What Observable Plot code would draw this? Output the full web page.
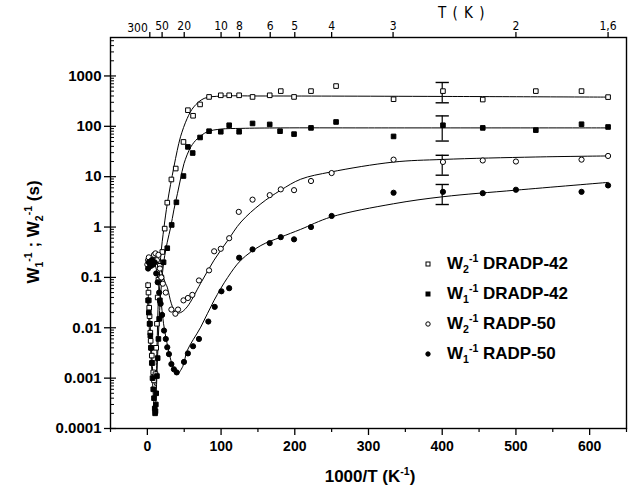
<!DOCTYPE html>
<html><head><meta charset="utf-8">
<script src="https://cdn.jsdelivr.net/npm/d3@7"></script>
<script src="https://cdn.jsdelivr.net/npm/@observablehq/plot@0.6"></script>
<style>
body{margin:0;background:#fff;}
#wrap{position:relative;width:636px;height:491px;font-family:"Liberation Sans",Arial,sans-serif;color:#000;}
.ov{position:absolute;font-weight:bold;white-space:nowrap;line-height:1;}
.ov sub,.ov sup{font-size:62%;}
#legend{position:absolute;left:421px;top:249px;font-weight:bold;font-size:17px;}
#legend .row{height:30px;display:flex;align-items:center;}
#legend svg{width:20px;height:12px;margin-right:6px;}
</style></head><body><div id="wrap"></div>
<script>
// ---- data ----
const w2Dradp = [[1,0.07],[1.5,0.05],[2,0.035],[2.5,0.025],[3,0.017],[3.5,0.012],[4,0.008],[4.5,0.0055],[5,0.004],[6,0.0028],[7,0.002],[8,0.0013],[9,0.0009],
 [11,0.0012],[12,0.004],[13,0.012],[14,0.04],[15,0.09],[17,0.17],[20.3,0.32],[23.5,0.93],[27,3.05],[32.6,8.8],[38.5,14.5],[49,49],[55,209],[62,162],[71.5,272],
 [83.7,383],[99.6,413],[111,413],[124.5,413],[142.7,383],[166,413],[181,500],[199,383],[222,500],[256,630],[334,345],[401,500],[455,340],[527,500],[589,500],[625,380]];
const w1Dradp = [[1,0.035],[2,0.02],[3,0.012],[4,0.007],[5,0.004],[6,0.002],[7,0.001],[8,0.0006],[9,0.0004],[10,0.00025],[10.5,0.0002],[11,0.00022],[11.5,0.0003],
 [12,0.0005],[13,0.0011],[14,0.0025],[15,0.006],[16,0.015],[17,0.035],[19,0.1],[22,0.2],[27,0.38],[33,1.1],[39.4,3.1],[49,10.3],[55,39],[61.5,29.5],[71.5,60],
 [83.7,80],[99.6,78],[111,105],[124.5,78],[142.7,114],[166,109],[180,80],[199,70],[222,93],[256,122],[334,63],[401,105],[455,93],[527,84],[589,110],[625,97]];
const w2Radp = [[0,0.18],[1,0.22],[2,0.25],[3,0.2],[5,0.17],[7,0.22],[9,0.28],[11,0.3],[13,0.22],[15,0.28],[17,0.15],[19,0.1],[21,0.075],[25,0.05],[32.6,0.023],
 [38,0.019],[41.6,0.023],[49,0.035],[55,0.039],[61,0.045],[70,0.087],[83.7,0.138],[90.6,0.33],[99.6,0.37],[111,0.6],[124,2.0],[142.7,3.5],[166,4.3],[181,5.6],
 [199,5.4],[222,8.2],[250,11.8],[334,21.8],[401,19.6],[455,21],[500,20],[589,21.8],[625,25.8]];
const w1Radp = [[1,0.15],[2,0.2],[4,0.17],[6,0.22],[8,0.18],[10,0.2],[12,0.12],[14,0.08],[16,0.05],[18,0.03],[20,0.018],[22.6,0.0088],[25,0.006],[27,0.0041],
 [29.3,0.003],[32.6,0.0019],[36,0.0015],[39.8,0.0013],[49.7,0.0021],[55,0.0031],[62,0.0043],[70,0.006],[82.7,0.0133],[91.4,0.026],[100.5,0.053],[111,0.061],
 [124.5,0.246],[142.7,0.36],[166,0.48],[181,0.63],[199,0.57],[222,1.0],[250,1.66],[334,4.8],[401,5.0],[455,4.7],[500,5.5],[589,5.0],[625,6.7]];

// fitted curves
const fitW2Dradp = [[0,0.08],[3,0.018],[6,0.003],[9,0.0008],[11,0.0007],[13,0.004],[15,0.04],[18,0.25],[22.6,1.0],[27,2.9],[31.5,7],[36,15.6],[40.5,33],[45,62],
 [54,143],[63,243],[77,358],[100,398],[150,400],[250,398],[400,392],[625,380]];
const fitW1Dradp = [[0,0.04],[3,0.008],[6,0.0015],[9,0.0003],[10.5,0.0002],[12,0.0005],[14,0.003],[16,0.015],[19,0.07],[22.6,0.22],[27,0.5],[31.7,1.0],[36,2.2],
 [40.8,4.6],[45,9],[49.7,18.2],[59,39],[68,57],[81.5,78],[99.6,88],[127,91],[181,93],[300,93],[625,93]];
const fitW2Radp = [[0,0.17],[5,0.22],[10,0.25],[15,0.2],[20,0.12],[24,0.08],[27,0.064],[32.6,0.03],[38.5,0.02],[45,0.02],[54,0.026],[72,0.075],[90.5,0.22],
 [109,0.54],[127,1.26],[154,2.9],[181,5.4],[208,8.9],[249,12.4],[334,19.5],[401,22],[527,24.6],[625,25.8]];
const fitW1Radp = [[0,0.15],[5,0.2],[10,0.18],[14,0.1],[18,0.04],[22,0.012],[28,0.004],[34,0.0018],[40,0.0012],[48,0.0017],[54,0.0035],[72.4,0.0103],
 [90.5,0.035],[109,0.1],[127,0.22],[154,0.43],[181,0.63],[208,0.9],[249,1.58],[334,2.9],[401,4.0],[500,5.4],[625,7.7]];

// error bars at 1000/T = 400
const errX  = [400,400,400,400];
const errLo = [293,51,10.7,2.8];
const errHi = [742,161,26.6,7.0];

// ticks
const xMajor = [0,100,200,300,400,500,600];
const xMinor = [-50,50,150,250,350,450,550,650];
const tTicks = [300,50,20,10,8,6,5,4,3,2,1.6];
const tLabels = ["300","50","20","10","8","6","5","4","3","2","1,6"];
const yMajor = [1e-4,1e-3,1e-2,1e-1,1,10,100,1000];
const yLabels = ["0.0001","0.001","0.01","0.1","1","10","100","1000"];

// ---- build ----
const tPos = tTicks.map(t => 1000/t);
const tMap = new Map(tPos.map((p,i)=>[p,tLabels[i]]));
const firstT = tPos[0];
const yMap = new Map(yMajor.map((v,i)=>[v,yLabels[i]]));
const yMinor = [];
yMajor.forEach(v => { for (let k=2;k<=9;k++) if (v*k < 5800) yMinor.push(v*k); });
const errs = errX.map((x,i)=>({x, lo:errLo[i], hi:errHi[i]}));
const capHalf = 9;

const W = 636, H = 491, ML = 110, MR = 10, MT = 37, MB = 63;
const topFont = "'Liberation Sans Narrow', 'DejaVu Sans Condensed', sans-serif";
const lineOpts = () => ({x: p=>p[0], y: p=>p[1], curve: "catmull-rom", stroke: "black", strokeWidth: 1});

const plot = Plot.plot({
  width: W, height: H, marginLeft: ML, marginRight: MR, marginTop: MT, marginBottom: MB,
  x: {domain: [-50, 650]},
  y: {type: "log", domain: [1e-4, 5800]},
  style: {fontFamily: "'Liberation Sans', Arial, sans-serif", fontWeight: "bold", color: "black", background: "white", overflow: "visible"},
  marks: [
    Plot.line(fitW2Dradp, lineOpts()),
    Plot.line(fitW1Dradp, lineOpts()),
    Plot.line(fitW2Radp, lineOpts()),
    Plot.line(fitW1Radp, lineOpts()),
    Plot.ruleX(errs, {x: "x", y1: "lo", y2: "hi", stroke: "black", strokeWidth: 1.2}),
    Plot.link(errs, {x1: d=>d.x-capHalf, x2: d=>d.x+capHalf, y1: "lo", y2: "lo", stroke: "black", strokeWidth: 1.4}),
    Plot.link(errs, {x1: d=>d.x-capHalf, x2: d=>d.x+capHalf, y1: "hi", y2: "hi", stroke: "black", strokeWidth: 1.4}),
    Plot.dot(w2Dradp, {x: p=>p[0], y: p=>p[1], symbol: "square", r: 2.6, fill: "white", stroke: "black", strokeWidth: 1}),
    Plot.dot(w1Dradp, {x: p=>p[0], y: p=>p[1], symbol: "square", r: 2.6, fill: "black", stroke: "black", strokeWidth: 1}),
    Plot.dot(w2Radp, {x: p=>p[0], y: p=>p[1], symbol: "circle", r: 2.6, fill: "white", stroke: "black", strokeWidth: 1}),
    Plot.dot(w1Radp, {x: p=>p[0], y: p=>p[1], symbol: "circle", r: 2.6, fill: "black", stroke: "black", strokeWidth: 1}),
    Plot.frame({stroke: "black", strokeWidth: 1.4}),
    Plot.axisX({ticks: xMajor, tickSize: 7, tickPadding: 6, tickFormat: d => String(d), fontSize: 14, label: null, strokeWidth: 1.3}),
    Plot.axisX({ticks: xMinor, tickSize: 4, tickFormat: () => "", label: null, strokeWidth: 1.2}),
    Plot.axisX({anchor: "top", ticks: tPos, tickSize: 6, tickPadding: 2, tickFormat: d => d === firstT ? "" : tMap.get(d), label: null,
      fontSize: 12, fontWeight: "normal", fontFamily: topFont, strokeWidth: 1.3}),
    Plot.text([firstT], {x: d => d, frameAnchor: "top", dy: -14, dx: -2, textAnchor: "end", text: d => tMap.get(d),
      fontSize: 12, fontWeight: "normal", fontFamily: topFont}),
    Plot.axisY({ticks: yMajor, tickSize: 6, tickPadding: 3, tickFormat: d => yMap.get(d), fontSize: 15, label: null, strokeWidth: 1.3}),
    Plot.tickY(yMinor, {y: d => d, insetRight: W - ML - MR - 4, stroke: "black", strokeWidth: 1}),
    Plot.tickY(yMajor, {y: d => d, insetRight: W - ML - MR - 6, stroke: "black", strokeWidth: 1.2})
  ]
});

const wrap = document.getElementById("wrap");
wrap.appendChild(plot);

function ov(html, css) {
  const d = document.createElement("div");
  d.className = "ov"; d.innerHTML = html; d.style.cssText += css; wrap.appendChild(d); return d;
}
ov("T ( K )", "left:438px;top:6px;font-size:15px;font-weight:normal;font-family:'Liberation Sans Narrow','DejaVu Sans Condensed',sans-serif;letter-spacing:1px;");
ov("1000/T (K<sup>-1</sup>)", "left:370px;top:466px;font-size:17px;transform:translateX(-50%);");
ov("W<sub>1</sub><sup>-1</sup> ; W<sub>2</sub><sup>-1</sup> (s)", "left:34px;top:232px;font-size:17px;transform:translate(-50%,-50%) rotate(-90deg);");

const legendItems = [
  {label: "W<sub>2</sub><sup>-1</sup> DRADP-42", sym: "square", fill: "white"},
  {label: "W<sub>1</sub><sup>-1</sup> DRADP-42", sym: "square", fill: "black"},
  {label: "W<sub>2</sub><sup>-1</sup> RADP-50", sym: "circle", fill: "white"},
  {label: "W<sub>1</sub><sup>-1</sup> RADP-50", sym: "circle", fill: "black"}
];
const lg = document.createElement("div"); lg.id = "legend";
legendItems.forEach(it => {
  const row = document.createElement("div"); row.className = "row";
  const shape = it.sym === "square"
    ? `<rect x="5" y="4" width="4" height="4" fill="${it.fill}" stroke="black" stroke-width="1"/>`
    : `<circle cx="7" cy="6" r="2.2" fill="${it.fill}" stroke="black" stroke-width="1"/>`;
  row.innerHTML = `<svg viewBox="0 0 20 12">${shape}</svg><span class="ov" style="position:static;font-size:17px">${it.label}</span>`;
  lg.appendChild(row);
});
wrap.appendChild(lg);
</script>
</body></html>
